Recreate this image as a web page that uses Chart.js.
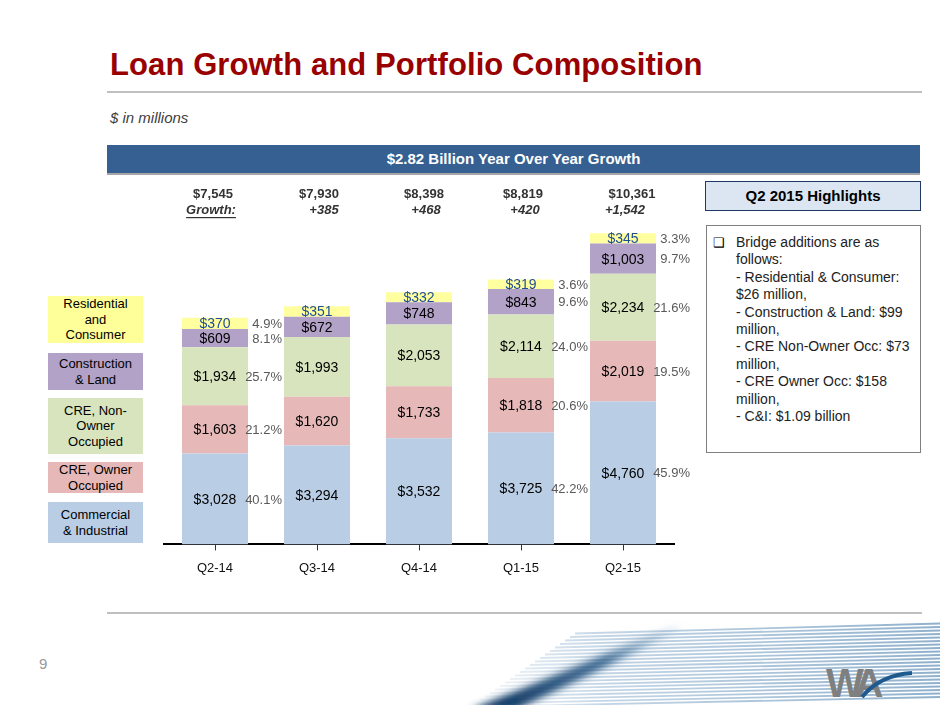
<!DOCTYPE html>
<html>
<head>
<meta charset="utf-8">
<script src="https://cdn.jsdelivr.net/npm/chart.js@4.4.1/dist/chart.umd.min.js"></script>
<style>
  body { margin: 0; background: #fff; font-family: "Liberation Sans", Arial, sans-serif; }
  #slide { position: relative; width: 940px; height: 705px; overflow: hidden; }
  #chart { position: absolute; left: 0; top: 0; }
  .abs { position: absolute; }
  .title { left: 110px; top: 47px; font-size: 31px; font-weight: bold; color: #990000; white-space: nowrap; letter-spacing: 0.1px; }
  .rule { left: 107px; width: 815px; height: 2px; background: #bfbfbf; }
  .sub { left: 110px; top: 109px; font-size: 15px; font-style: italic; color: #404040; }
  .banner { left: 107px; top: 145px; width: 813px; height: 28px; background: #376092; border-bottom: 2px solid #a6a6a6;
            color: #fff; font-weight: bold; font-size: 15px; text-align: center; line-height: 28px; }
  .hlhead { left: 705px; top: 181px; width: 214px; height: 28px; background: #dce6f2; border: 1.5px solid #1f3864;
            font-weight: bold; font-size: 15px; text-align: center; line-height: 28px; color: #000; }
  .hlbox { left: 706px; top: 225px; width: 215px; height: 228px; border: 1px solid #7f7f7f; box-sizing: border-box; }
  .hltext { left: 736px; top: 234px; width: 185px; font-size: 14px; line-height: 17.4px; color: #222; }
  .chk { left: 713px; top: 234px; font-size: 13px; line-height: 17.4px; }
  .leg { left: 48px; width: 95px; display: flex; align-items: center; justify-content: center; text-align: center;
         font-size: 13px; line-height: 15.5px; color: #000; }
  .pnum { left: 39px; top: 655px; font-size: 15px; color: #999; }
</style>
</head>
<body>
<div id="slide">
  <svg id="swoosh" class="abs" style="left:0;top:615px" width="940" height="90">
    <defs>
      <linearGradient id="stripe" gradientUnits="userSpaceOnUse" x1="460" x2="940" y1="0" y2="0">
        <stop offset="0" stop-color="#a9c3da" stop-opacity="0"/>
        <stop offset="0.3" stop-color="#a9c3da" stop-opacity="0.7"/>
        <stop offset="1" stop-color="#8fb0cd" stop-opacity="1"/>
      </linearGradient>
      <linearGradient id="streak" gradientUnits="userSpaceOnUse" x1="490" y1="92" x2="680" y2="10">
        <stop offset="0" stop-color="#0d3560" stop-opacity="1"/>
        <stop offset="0.6" stop-color="#245684" stop-opacity="0.8"/>
        <stop offset="1" stop-color="#7ea6c8" stop-opacity="0.1"/>
      </linearGradient>
      <filter id="blur" x="-20%" y="-20%" width="140%" height="140%"><feGaussianBlur stdDeviation="3.5"/></filter>
    </defs>
    <g id="stripes" stroke="url(#stripe)" stroke-width="1.8" fill="none"></g>
    <path d="M470 95 L560 58 L676 10 L684 13 L585 62 L515 95 Z" fill="url(#streak)" filter="url(#blur)"/>
    <text x="826" y="82" font-family="Liberation Sans, Arial, sans-serif" font-weight="bold" font-size="40"
          fill="#7f7f7f" letter-spacing="-7">WA</text>
    <path d="M862 82 Q880 60 912 58" stroke="#1f5a8e" stroke-width="4" fill="none"/>
  </svg>

  <div class="abs title">Loan Growth and Portfolio Composition</div>
  <div class="abs rule" style="top:91px"></div>
  <div class="abs sub">$ in millions</div>
  <div class="abs banner">$2.82 Billion Year Over Year Growth</div>
  <div class="abs hlhead">Q2 2015 Highlights</div>
  <div class="abs hlbox"></div>
  <div class="abs chk">&#10065;</div>
  <div class="abs hltext">Bridge additions are as follows:<br>- Residential &amp; Consumer: $26 million,<br>- Construction &amp; Land: $99 million,<br>- CRE Non-Owner Occ: $73 million,<br>- CRE Owner Occ: $158 million,<br>- C&amp;I: $1.09 billion</div>

  <div class="abs leg" style="top:296px;height:47px;background:#ffff99">Residential<br>and<br>Consumer</div>
  <div class="abs leg" style="top:353px;height:37px;background:#b3a2c7">Construction<br>&amp; Land</div>
  <div class="abs leg" style="top:398px;height:56px;background:#d7e4bd">CRE, Non-<br>Owner<br>Occupied</div>
  <div class="abs leg" style="top:462px;height:31px;background:#e6b9b8">CRE, Owner<br>Occupied</div>
  <div class="abs leg" style="top:502px;height:41px;background:#b9cde5">Commercial<br>&amp; Industrial</div>

  <div class="abs rule" style="top:612px"></div>
  <div class="abs pnum">9</div>

  <canvas id="chart" width="940" height="705"></canvas>
</div>

<script>
// quarters and loan balances by category ($ millions)
const quarters = ["Q2-14", "Q3-14", "Q4-14", "Q1-15", "Q2-15"];
const commercialIndustrial = [3028, 3294, 3532, 3725, 4760];
const creOwnerOccupied = [1603, 1620, 1733, 1818, 2019];
const creNonOwnerOccupied = [1934, 1993, 2053, 2114, 2234];
const constructionLand = [609, 672, 748, 843, 1003];
const residentialConsumer = [370, 351, 332, 319, 345];
const totals = ["$7,545", "$7,930", "$8,398", "$8,819", "$10,361"];
const growth = [null, "+385", "+468", "+420", "+1,542"];
// share of portfolio, bottom segment first (only shown for some quarters)
const shares = [
    ["40.1%", "21.2%", "25.7%", "8.1%", "4.9%"],
    null,
    null,
    ["42.2%", "20.6%", "24.0%", "9.6%", "3.6%"],
    ["45.9%", "19.5%", "21.6%", "9.7%", "3.3%"],
];

// background stripes of the footer artwork
const stripeGroup = document.getElementById("stripes");
for (let k = 0; k < 22; k++) {
    const yl = 92 - k * 3.5;
    const p = document.createElementNS("http://www.w3.org/2000/svg", "path");
    p.setAttribute("d", `M${470 + k * 5} ${yl} L940 ${yl - 10}`);
    stripeGroup.appendChild(p);
}

const FONT = '"Liberation Sans", Arial, sans-serif';
const fmt = (v) => "$" + v.toString().replace(/\B(?=(\d{3})+(?!\d))/g, ",");

const slideLabels = {
    id: "slideLabels",
    afterDatasetsDraw(chart) {
        const ctx = chart.ctx;
        ctx.save();
        ctx.textBaseline = "middle";
        chart.data.datasets.forEach((ds, di) => {
            const meta = chart.getDatasetMeta(di);
            meta.data.forEach((bar, i) => {
                const cy = (bar.y + bar.base) / 2 + 1;
                ctx.font = "14px " + FONT;
                ctx.textAlign = "center";
                ctx.fillStyle = di === 4 ? "#1f4e99" : "#000";
                ctx.fillText(fmt(ds.data[i]), bar.x, cy);
                if (shares[i]) {
                    ctx.font = "13px " + FONT;
                    ctx.textAlign = "right";
                    ctx.fillStyle = "#595959";
                    ctx.fillText(shares[i][di], bar.x + bar.width / 2 + 34, cy);
                }
            });
        });

        // totals and growth row above the bars
        const meta0 = chart.getDatasetMeta(0);
        const totalShift = [-2, 2, 5, 2, 9];
        const growthShift = [-4, 7, 7, 4, 2];
        ctx.fillStyle = "#333";
        meta0.data.forEach((bar, i) => {
            ctx.textAlign = "center";
            ctx.font = "bold 13px " + FONT;
            ctx.fillText(totals[i], bar.x + totalShift[i], 194);
            ctx.font = "italic bold 13px " + FONT;
            const g = growth[i] || "Growth:";
            const gx = bar.x + growthShift[i];
            ctx.fillText(g, gx, 210);
            if (!growth[i]) {
                const w = ctx.measureText(g).width;
                ctx.fillRect(gx - w / 2, 217, w, 1.2);
            }
        });
        ctx.restore();
    },
};

new Chart(document.getElementById("chart"), {
    type: "bar",
    data: {
        labels: quarters,
        datasets: [
            { label: "Commercial & Industrial", data: commercialIndustrial, backgroundColor: "#b9cde5" },
            { label: "CRE, Owner Occupied", data: creOwnerOccupied, backgroundColor: "#e6b9b8" },
            { label: "CRE, Non-Owner Occupied", data: creNonOwnerOccupied, backgroundColor: "#d7e4bd" },
            { label: "Construction & Land", data: constructionLand, backgroundColor: "#b3a2c7" },
            { label: "Residential and Consumer", data: residentialConsumer, backgroundColor: "#ffffa0" },
        ],
    },
    options: {
        responsive: false,
        animation: false,
        events: [],
        layout: { padding: { left: 164, right: 266, top: 184, bottom: 119 } },
        datasets: { bar: { categoryPercentage: 1, barPercentage: 0.647 } },
        plugins: { legend: { display: false }, tooltip: { enabled: false } },
        scales: {
            x: {
                stacked: true,
                border: { display: true, color: "#000", width: 2 },
                grid: { display: true, drawOnChartArea: false, offset: false, tickLength: 6, tickColor: "#333" },
                ticks: { color: "#111", padding: 10, font: { size: 13, family: FONT } },
            },
            y: { stacked: true, display: false, min: 0, max: 12000 },
        },
    },
    plugins: [slideLabels],
});
</script>
</body>
</html>
